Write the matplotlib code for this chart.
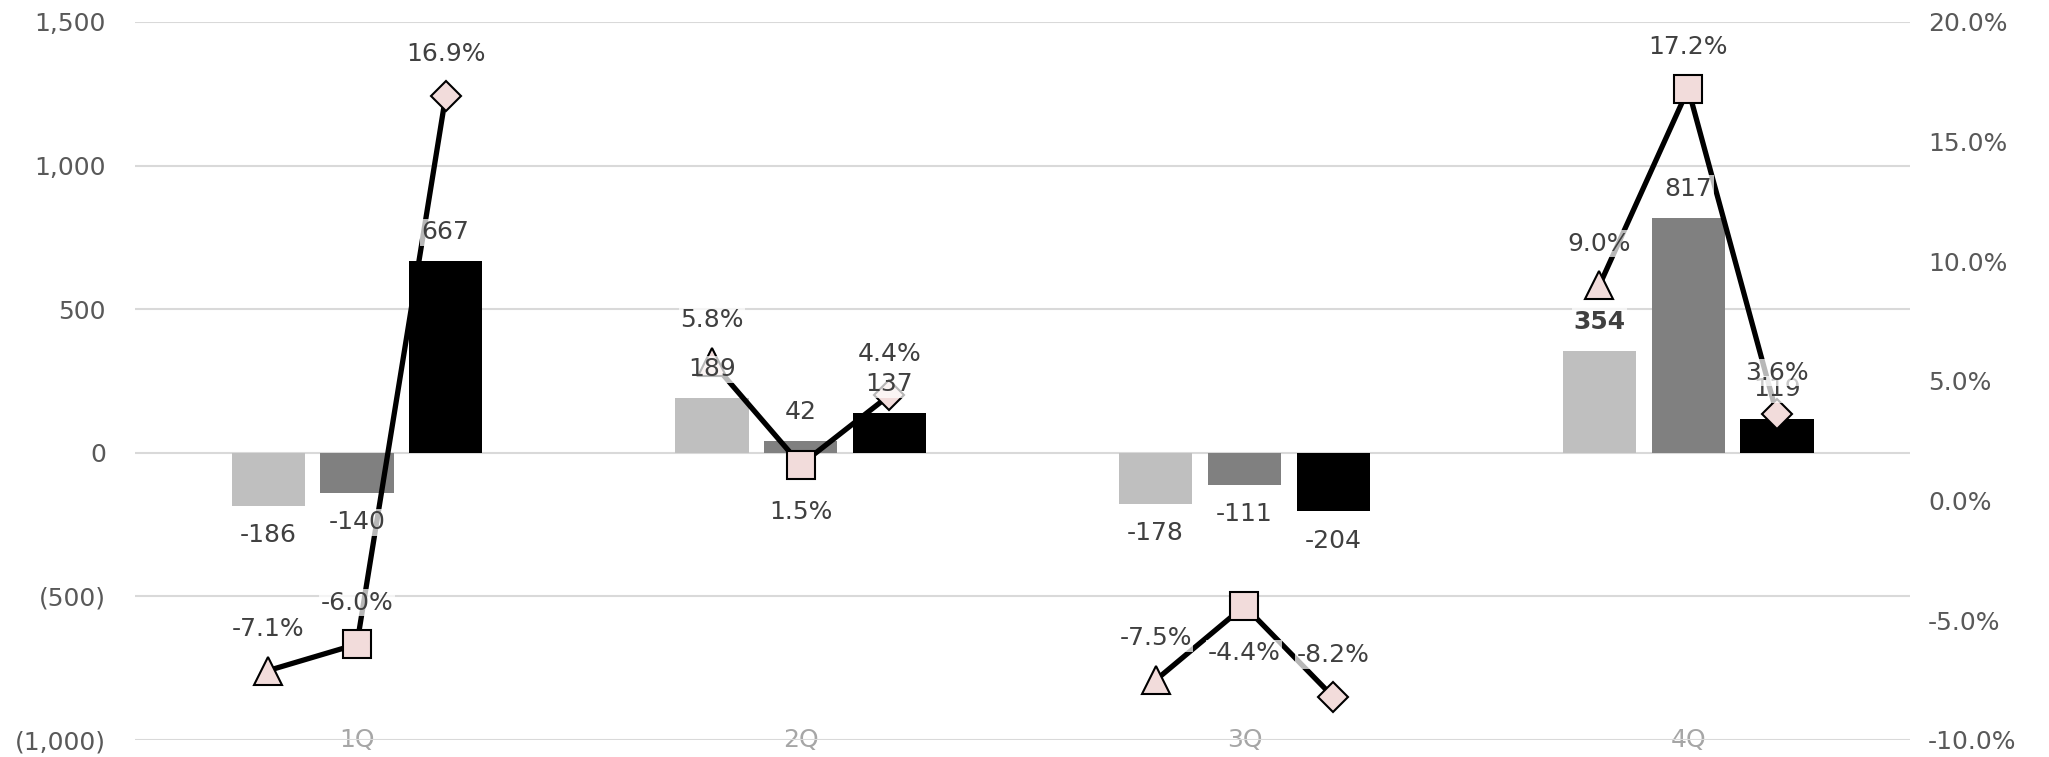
"""
Quarterly bars (left axis) with per-quarter rate markers (right axis).
"""
import numpy as np
import matplotlib
matplotlib.use("Agg")
import matplotlib.pyplot as plt
from matplotlib.ticker import FuncFormatter

quarters = ["1Q", "2Q", "3Q", "4Q"]
bar_a = [-186, 189, -178, 354]
bar_b = [-140, 42, -111, 817]
bar_c = [667, 137, -204, 119]
rate_a = [-7.1, 5.8, -7.5, 9.0]
rate_b = [-6.0, 1.5, -4.4, 17.2]
rate_c = [16.9, 4.4, -8.2, 3.6]
left_ticks = [-1000, -500, 0, 500, 1000, 1500]
right_ticks = [-10, -5, 0, 5, 10, 15, 20]

BAR_COLORS = ["#bfbfbf", "#808080", "#000000"]
MARKERS = ["^", "s", "D"]
MSIZES = [20, 20, 15]
PINK = "#f2dcdb"
TXT = "#404040"
TICK = "#595959"
FS = 18
# rate label above (+1) or below (-1) the marker, per series / quarter
rate_side = [[1, 1, 1, 1], [1, -1, -1, 1], [1, 1, 1, 1]]

plt.rcParams["font.family"] = ["DejaVu Sans"]

fig = plt.figure(figsize=(20.49, 7.57), dpi=100)
ax = fig.add_axes([0.0659, 0.0225, 0.8663, 0.9485])
ax2 = ax.twinx()

x = np.arange(len(quarters))
offs = [-0.2, 0.0, 0.2]
bars = [bar_a, bar_b, bar_c]
rates = [rate_a, rate_b, rate_c]

for k, (vals, c) in enumerate(zip(bars, BAR_COLORS)):
    ax.bar(x + offs[k], vals, width=0.165, color=c, zorder=2)

ax.set_xlim(-0.5, 3.5)
ax.set_ylim(-1000, 1500)
ax.set_yticks(left_ticks)
ax.yaxis.set_major_formatter(FuncFormatter(
    lambda v, p: "0" if v == 0 else (f"({abs(v):,.0f})" if v < 0 else f"{v:,.0f}")))
ax.grid(axis="y", color="#d9d9d9", lw=1.5, zorder=0)
ax.set_axisbelow(True)
ax.set_xticks(x)
ax.set_xticklabels(quarters)
ax.tick_params(axis="x", length=0, pad=0, labelsize=FS, labelcolor="#a6a6a6")
for lbl in ax.get_xticklabels():
    lbl.set_va("center")
ax.tick_params(axis="y", length=0, pad=21, labelsize=FS, labelcolor=TICK)

ax2.set_ylim(-10, 20)
ax2.set_yticks(right_ticks)
ax2.yaxis.set_major_formatter(FuncFormatter(lambda v, p: f"{v:.1f}%"))
ax2.tick_params(axis="y", length=0, pad=13, labelsize=FS, labelcolor=TICK)

for a in (ax, ax2):
    for s in a.spines.values():
        s.set_visible(False)

# rate lines, one short polyline per quarter
for q in range(len(quarters)):
    xs = x[q] + np.array(offs)
    ys = [r[q] for r in rates]
    ax2.plot(xs, ys, color="black", lw=3.8, zorder=3, solid_capstyle="butt")
    for k in range(3):
        ax2.plot(xs[k], ys[k], marker=MARKERS[k], ms=MSIZES[k],
                 mfc=PINK, mec="black", mew=1.5, zorder=4)

box = dict(facecolor="white", alpha=0.72, edgecolor="none", pad=1)

# bar value labels
for k, vals in enumerate(bars):
    for q, v in enumerate(vals):
        dy = 21 if v >= 0 else -21
        ax2.annotate(f"{v:,}", xy=(x[q] + offs[k], v), xycoords=ax.transData,
                     xytext=(0, dy), textcoords="offset points",
                     ha="center", va="center", fontsize=FS, color=TXT,
                     fontweight="bold" if (k, q) == (0, 3) else "normal",
                     bbox=box, zorder=5)

# rate labels
for k, vals in enumerate(rates):
    for q, v in enumerate(vals):
        dy = 30 if rate_side[k][q] > 0 else -34
        ax2.annotate(f"{v:.1f}%", xy=(x[q] + offs[k], v),
                     xytext=(0, dy), textcoords="offset points",
                     ha="center", va="center", fontsize=FS, color=TXT,
                     bbox=box, zorder=6)

fig.savefig("out.png", dpi=100)
plt.close(fig)
